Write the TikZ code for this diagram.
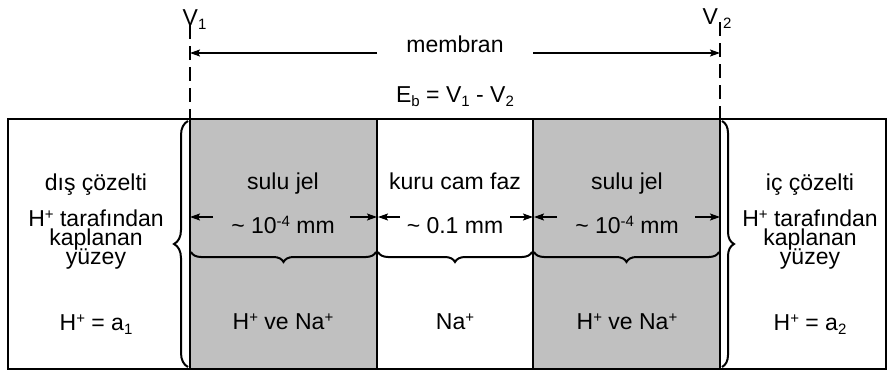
\documentclass[tikz,border=0pt]{standalone}
\usepackage{fontspec}
\setmainfont{Liberation Sans}
\usetikzlibrary{arrows.meta,decorations.pathreplacing}
\definecolor{gelgray}{RGB}{192,192,192}
\newcommand{\supr}[1]{\raisebox{7pt}{\fontsize{15}{15}\selectfont #1}}
\newcommand{\subr}[1]{\raisebox{-4.5pt}{\fontsize{15}{15}\selectfont #1}}
\begin{document}
\begin{tikzpicture}[x=1pt,y=-1pt,
  txt/.style={font=\fontsize{23}{18}\selectfont, inner sep=0pt, anchor=base},
  outerline/.style={line width=2.4pt},
  innerline/.style={line width=2.2pt},
  dashline/.style={line width=2.5pt, dash pattern=on 14pt off 7pt},
  dimarrow/.style={line width=1.5pt, -{Stealth[length=10pt,width=7pt,inset=2pt]}},
  bracestyle/.style={line width=2pt, decorate, decoration={brace, amplitude=#1}},
  bracestyle/.default=10pt
]
\useasboundingbox (0,0) rectangle (889,372);

% columns
\fill[gelgray] (190,119) rectangle (377,369);
\fill[gelgray] (533,119) rectangle (720,369);
\draw[innerline] (190,119) -- (190,369);
\draw[innerline] (377,119) -- (377,369);
\draw[innerline] (533,119) -- (533,369);
\draw[innerline] (720,119) -- (720,369);
\draw[outerline] (8,119) rectangle (886,369);

% top labels
\node[txt, anchor=base west] (v1) at (182.5,25) {V\subr{1}};
\node[txt, anchor=base west] (v2) at (702.5,24) {V\subr{\hspace{5pt}2}};
\coordinate (d1top) at (190,25);
\coordinate (d1bot) at (190,119);
\coordinate (d2top) at (720,22);
\coordinate (d2bot) at (720,119);
\draw[dashline] (d1top) -- (d1bot);
\draw[dashline] (d2top) -- (d2bot);

\node[txt] (membran) at (455,52) {membran};
\node[txt] (eb) at (455,102) {E\subr{b} = V\subr{1} - V\subr{2}};
\coordinate (mL) at (190,53);
\coordinate (mLs) at (377,53);
\coordinate (mR) at (720,53);
\coordinate (mRs) at (533,53);
\draw[dimarrow] (mLs) -- (mL);
\draw[dimarrow] (mRs) -- (mR);

% row 1
\node[txt] (dis) at (96,190) {dış çözelti};
\node[txt] (sulu1) at (283,189) {sulu jel};
\node[txt] (kuru) at (455,189) {kuru cam faz};
\node[txt] (sulu2) at (627,189) {sulu jel};
\node[txt] (ic) at (810,190) {iç çözelti};

% row 2
\node[txt] (hL1) at (96,226) {H\supr{+} tarafından};
\node[txt] (hL2) at (96,245) {kaplanan};
\node[txt] (hL3) at (96,264) {yüzey};
\node[txt] (hR1) at (810,226) {H\supr{+} tarafından};
\node[txt] (hR2) at (810,245) {kaplanan};
\node[txt] (hR3) at (810,264) {yüzey};

\node[txt] (dim1) at (283,233) {\textasciitilde{} 10\supr{-4} mm};
\node[txt] (dim2) at (455,233) {\textasciitilde{} 0.1 mm};
\node[txt] (dim3) at (627,233) {\textasciitilde{} 10\supr{-4} mm};

\coordinate (g1a) at (213,217); \coordinate (g1L) at (190,217);
\coordinate (g1b) at (350,217); \coordinate (g1R) at (377,217);
\coordinate (k1a) at (400,217); \coordinate (k1L) at (378,217);
\coordinate (k1b) at (510,217); \coordinate (k1R) at (533,217);
\coordinate (g2a) at (557,217); \coordinate (g2L) at (534,217);
\coordinate (g2b) at (695,217); \coordinate (g2R) at (720,217);
\draw[dimarrow] (g1a) -- (g1L);
\draw[dimarrow] (g1b) -- (g1R);
\draw[dimarrow] (k1a) -- (k1L);
\draw[dimarrow] (k1b) -- (k1R);
\draw[dimarrow] (g2a) -- (g2L);
\draw[dimarrow] (g2b) -- (g2R);

% horizontal braces
\coordinate (hb0) at (191,252);
\coordinate (hb1a) at (376,252);
\coordinate (hb1b) at (378,252);
\coordinate (hb2a) at (532,252);
\coordinate (hb2b) at (534,252);
\coordinate (hb3) at (719,252);
\draw[bracestyle, decoration={mirror}] (hb0) -- (hb1a);
\draw[bracestyle, decoration={mirror}] (hb1b) -- (hb2a);
\draw[bracestyle, decoration={mirror}] (hb2b) -- (hb3);

% vertical braces
\coordinate (lbB) at (188,367);
\coordinate (lbT) at (188,121);
\coordinate (rbT) at (722,121);
\coordinate (rbB) at (722,367);
\draw[bracestyle=14pt] (lbB) -- (lbT);
\draw[bracestyle=12pt] (rbT) -- (rbB);

% row 3
\node[txt] (aL) at (96,330) {H\supr{+} = a\subr{1}};
\node[txt] (ion1) at (283,329) {H\supr{+} ve Na\supr{+}};
\node[txt] (ion2) at (455,329) {Na\supr{+}};
\node[txt] (ion3) at (627,329) {H\supr{+} ve Na\supr{+}};
\node[txt] (aR) at (810,330) {H\supr{+} = a\subr{2}};
\end{tikzpicture}
\end{document}
